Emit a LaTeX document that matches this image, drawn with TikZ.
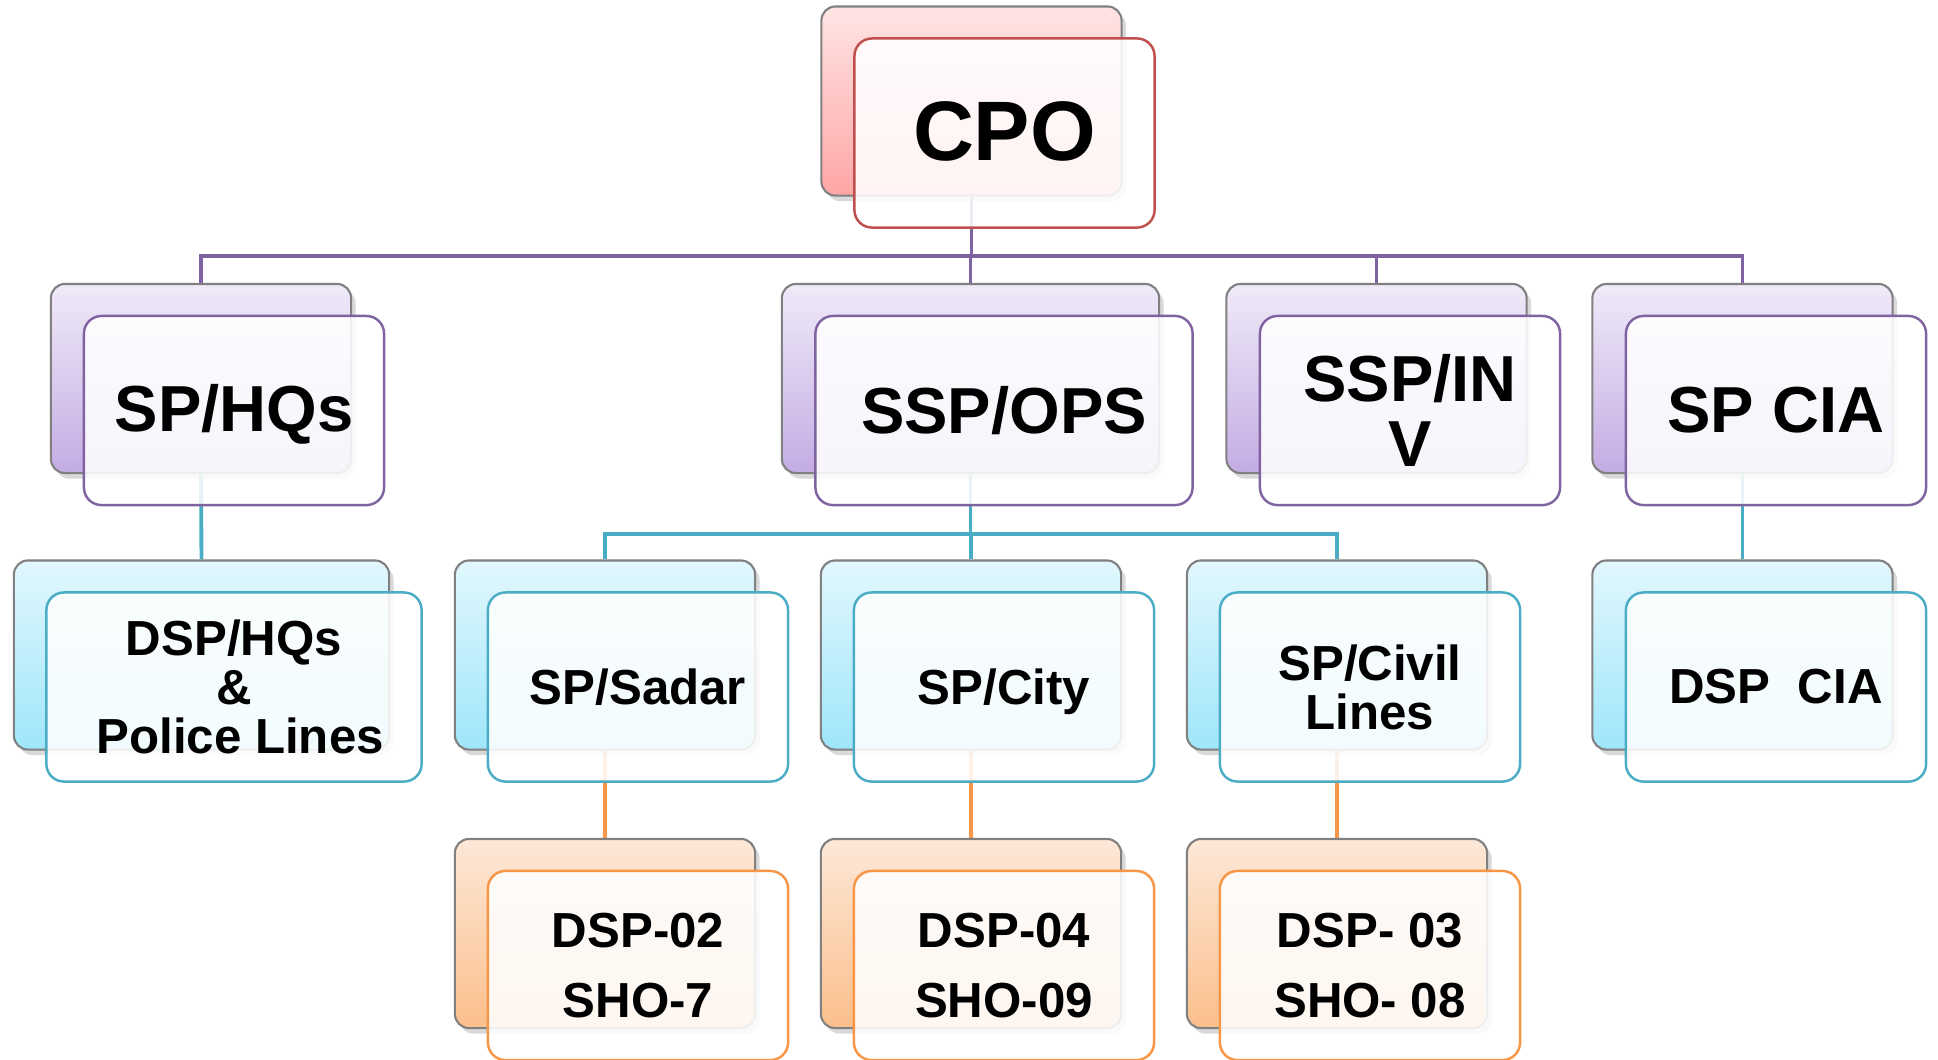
\documentclass[tikz,border=0pt]{standalone}
\usepackage{fontspec}
\setmainfont{Liberation Sans}
\usetikzlibrary{shadows,backgrounds}
\definecolor{redE}{HTML}{C0504D}
\definecolor{purE}{HTML}{8064A2}
\definecolor{tealE}{HTML}{4BACC6}
\definecolor{orgE}{HTML}{F79646}
\definecolor{redT}{HTML}{FFE4E4}
\definecolor{redBt}{HTML}{FFA6A6}
\definecolor{purT}{HTML}{F0EAF8}
\definecolor{purBt}{HTML}{C4ACE4}
\definecolor{tealT}{HTML}{E2F7FD}
\definecolor{tealBt}{HTML}{9FE6FA}
\definecolor{orgT}{HTML}{FDE8D8}
\definecolor{orgBt}{HTML}{FBBF8C}
\begin{document}
\begin{tikzpicture}[x=0.01cm,y=-0.01cm,
  backbox/.style 2 args={draw=black!50, line width=0.6pt, rounded corners=4pt,
    top color=#1, bottom color=#2, inner sep=0pt, minimum height=1.89cm, minimum width=3cm,
    drop shadow={shadow xshift=1.3pt, shadow yshift=-1.6pt, opacity=0.3}},
  frontbox/.style={draw=#1, line width=0.7pt, rounded corners=5pt, fill=white,
    fill opacity=0.87, text opacity=1, inner sep=0pt, minimum height=1.89cm,
    minimum width=3cm, align=center},
  fA/.style={font=\fontsize{24}{28}\selectfont\bfseries},
  fB/.style={font=\fontsize{18.5}{18.5}\selectfont\bfseries},
  fC/.style={font=\fontsize{14}{14}\selectfont\bfseries},
  fD/.style={font=\fontsize{14}{20}\selectfont\bfseries},
  conn/.style={draw=#1, line width=1.1pt},
]
\useasboundingbox (0,0) rectangle (1938,1059);

% level 1
\node[backbox={redT}{redBt}] (cpoB) at (971.5,101) {};
\node[frontbox=redE, fA] (cpo) at (1004.5,133) {\raisebox{1.2pt}{CPO}};

% level 2
\node[backbox={purT}{purBt}] (hqB) at (201,378.5) {};
\node[frontbox=purE, fB, text depth=0pt] (hq) at (234,410.5) {\raisebox{1.2pt}{SP/HQs}};
\node[backbox={purT}{purBt}, minimum width=3.77cm] (opsB) at (970.5,378.5) {};
\node[frontbox=purE, fB, minimum width=3.77cm] (ops) at (1004,410.5) {\raisebox{0.6pt}{SSP/OPS}};
\node[backbox={purT}{purBt}] (invB) at (1376.5,378.5) {};
\node[frontbox=purE, fB] (inv) at (1410,410.5) {SSP/IN\\V};
\node[backbox={purT}{purBt}] (ciaB) at (1742.5,378.5) {};
\node[frontbox=purE, fB] (cia) at (1776,410.5) {\raisebox{0.6pt}{SP CIA}};

% level 3
\node[backbox={tealT}{tealBt}, minimum width=3.75cm] (dhqB) at (201.5,655) {};
\node[frontbox=tealE, fC, minimum width=3.75cm] (dhq) at (234,687) {DSP/HQs\\\&\\\hspace*{0.25em}Police Lines};
\node[backbox={tealT}{tealBt}] (sadB) at (605,655) {};
\node[frontbox=tealE, fC] (sad) at (638,687) {SP/Sadar};
\node[backbox={tealT}{tealBt}] (cityB) at (971,655) {};
\node[frontbox=tealE, fC, text depth=0pt] (city) at (1004,687) {SP/City};
\node[backbox={tealT}{tealBt}] (civB) at (1337,655) {};
\node[frontbox=tealE, fC] (civ) at (1370,687) {SP/Civil\\Lines};
\node[backbox={tealT}{tealBt}] (dciaB) at (1742.5,655) {};
\node[frontbox=tealE, fC] (dcia) at (1776,687) {DSP\ \ CIA};

% level 4
\node[backbox={orgT}{orgBt}] (d02B) at (605,933.5) {};
\node[frontbox=orgE, fD] (d02) at (638,965.5) {DSP-02\\SHO-7};
\node[backbox={orgT}{orgBt}] (d04B) at (971,933.5) {};
\node[frontbox=orgE, fD] (d04) at (1004,965.5) {DSP-04\\SHO-09};
\node[backbox={orgT}{orgBt}] (d03B) at (1337,933.5) {};
\node[frontbox=orgE, fD] (d03) at (1370,965.5) {DSP- 03\\SHO- 08};

\coordinate (busP) at (0,256);
\coordinate (busT) at (0,534);

\begin{pgfonlayer}{background}
  \draw[conn=purE] (cpoB.south) -- (cpoB.south |- busP);
  \draw[conn=purE] (hqB.north) |- (ciaB.north |- busP) -- (ciaB.north);
  \draw[conn=purE] (opsB.north) -- (opsB.north |- busP);
  \draw[conn=purE] (invB.north) -- (invB.north |- busP);
  \draw[conn=tealE] (hqB.south) -- (dhqB.north);
  \draw[conn=tealE] (opsB.south) -- (opsB.south |- busT);
  \draw[conn=tealE] (sadB.north) |- (civB.north |- busT) -- (civB.north);
  \draw[conn=tealE] (cityB.north) -- (cityB.north |- busT);
  \draw[conn=tealE] (ciaB.south) -- (dciaB.north);
  \draw[conn=orgE] (sadB.south) -- (d02B.north);
  \draw[conn=orgE] (cityB.south) -- (d04B.north);
  \draw[conn=orgE] (civB.south) -- (d03B.north);
\end{pgfonlayer}
\end{tikzpicture}
\end{document}
